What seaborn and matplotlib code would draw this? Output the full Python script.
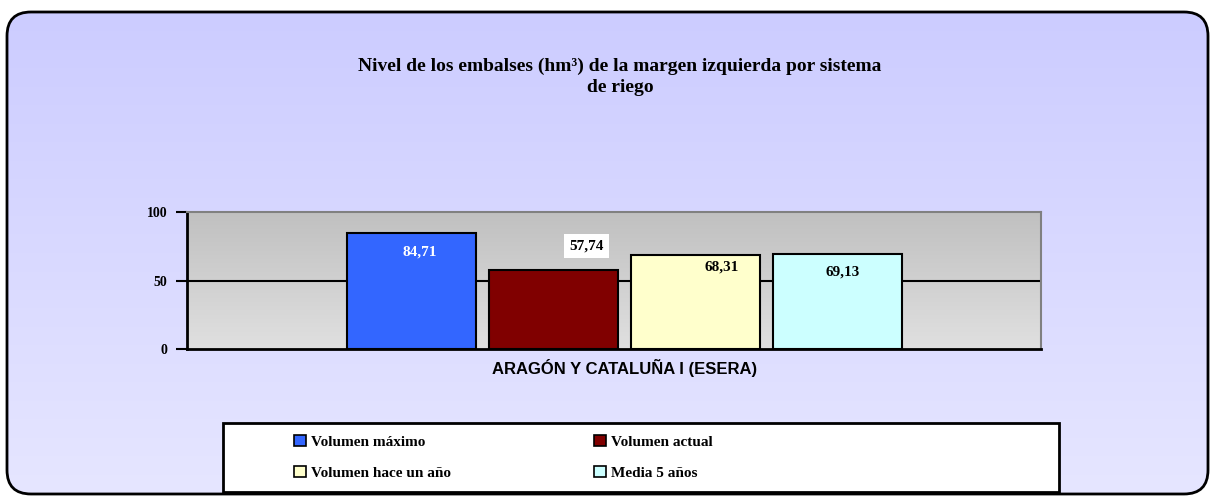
import numpy as np
import pandas as pd
import seaborn as sns
import matplotlib.pyplot as plt
from matplotlib.patches import FancyBboxPatch, Rectangle

# data
sistemas = ["ARAGÓN Y CATALUÑA I (ESERA)"]
series = ["Volumen máximo", "Volumen actual", "Volumen hace un año", "Media 5 años"]
valores = [84.71, 57.74, 68.31, 69.13]
etiquetas = ["84,71", "57,74", "68,31", "69,13"]
colores = ["#3366ff", "#800000", "#ffffcc", "#ccffff"]
yticks = [0, 50, 100]

df = pd.DataFrame({"sistema": sistemas * len(series), "serie": series, "valor": valores})

sns.set_style("white")
plt.rcParams["font.family"] = ["Liberation Serif", "DejaVu Serif"]
plt.rcParams["text.color"] = "black"
plt.rcParams["xtick.color"] = "black"
plt.rcParams["ytick.color"] = "black"

fig = plt.figure(figsize=(12.12, 4.96), dpi=100)
fig.patch.set_facecolor("white")

# rounded outer panel with a vertical gradient
bg = fig.add_axes([0, 0, 1, 1])
bg.set_xlim(0, 1212)
bg.set_ylim(496, 0)
bg.axis("off")
panel = FancyBboxPatch((7, 12), 1201, 482, boxstyle="round,pad=0,rounding_size=24",
                       facecolor="none", edgecolor="black", linewidth=2, zorder=3)
bg.add_patch(panel)
grad = np.linspace(0, 1, 256).reshape(-1, 1)
top_c = np.array([204, 204, 255]) / 255
bot_c = np.array([230, 230, 255]) / 255
img = top_c + (bot_c - top_c) * grad[..., None]
im = bg.imshow(img, extent=(7, 1208, 494, 12), aspect="auto", zorder=1)
im.set_clip_path(panel)

fig.text(620 / 1212, 1 - 58 / 496,
         "Nivel de los embalses (hm³) de la margen izquierda por sistema\nde riego",
         ha="center", va="top", fontsize=14, fontweight="bold", linespacing=1.25,
         color="black")

ax = fig.add_axes([187 / 1212, 1 - 349 / 496, 854 / 1212, 137 / 496])
ax.set_facecolor("none")
ag = np.linspace(0, 1, 256).reshape(-1, 1)
a_top = np.array([192, 192, 192]) / 255
a_bot = np.array([224, 224, 224]) / 255
ax.imshow(a_top + (a_bot - a_top) * ag[..., None], extent=(0, 1, 0, 1),
          transform=ax.transAxes, aspect="auto", zorder=0)

sns.barplot(data=df, x="sistema", y="valor", hue="serie", palette=colores,
            width=0.665, gap=0.09, edgecolor="black", linewidth=1.5,
            saturation=1, ax=ax, zorder=3)
ax.get_legend().remove()

ax.set_xlim(-0.512, 0.488)
ax.set_ylim(0, 100)
ax.set_yticks(yticks)
ax.axhline(50, color="black", linewidth=1.5, zorder=2)
ax.set_xlabel("")
ax.set_ylabel("")
ax.tick_params(axis="y", direction="out", length=8, width=1.5, color="black",
               labelcolor="black", left=True, labelsize=10, pad=6)
ax.tick_params(axis="x", length=0, pad=7, labelcolor="black")
for t in ax.get_yticklabels():
    t.set_fontweight("bold")
for t in ax.get_xticklabels():
    t.set_fontweight("bold")
    t.set_family(["Liberation Sans", "DejaVu Sans"])
    t.set_fontsize(12)
for s in ["left", "bottom"]:
    ax.spines[s].set_color("black")
    ax.spines[s].set_linewidth(2)
for s in ["top", "right"]:
    ax.spines[s].set_color("#808080")
    ax.spines[s].set_linewidth(1.5)

# value labels (offsets in points)
dx = [6, 24, 19, 4]
dy = [-14, 17, -8, -13]
txt_colors = ["white", "black", "black", "black"]
boxes = [False, True, False, False]
for cont, lab, ox, oy, tc, bx in zip(ax.containers, etiquetas, dx, dy, txt_colors, boxes):
    for bar in cont:
        kw = {}
        if bx:
            kw["bbox"] = dict(facecolor="white", edgecolor="none", pad=4)
        ax.annotate(lab, (bar.get_x() + bar.get_width() / 2, bar.get_height()),
                    xytext=(ox, oy), textcoords="offset points", ha="center",
                    va="center", color=tc, fontsize=11, fontweight="bold", zorder=5, **kw)

# legend, filled row by row
bg.add_patch(Rectangle((223, 423), 836, 69, facecolor="white", edgecolor="black",
                       linewidth=2, zorder=4))
handles = [Rectangle((0, 0), 1, 1, facecolor=c, edgecolor="black", linewidth=1.2)
           for c in colores]
orden = [0, 2, 1, 3]
leg = fig.legend([handles[i] for i in orden], [series[i] for i in orden], ncol=2,
                 loc="upper left", bbox_to_anchor=(280 / 1212, 1 - 421 / 496),
                 frameon=False, handlelength=0.8, handleheight=0.8, handletextpad=0.3,
                 columnspacing=9.4, labelspacing=1.1, labelcolor="black",
                 prop={"weight": "bold", "size": 11})
leg.set_zorder(6)

fig.savefig("out.png", dpi=100)
